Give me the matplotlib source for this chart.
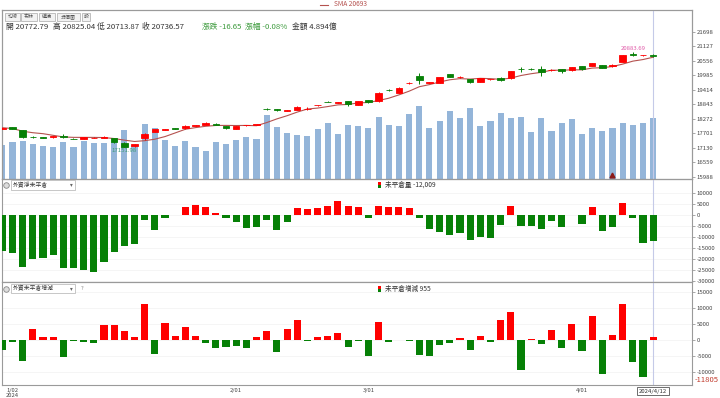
import matplotlib
matplotlib.use('Agg')
import matplotlib.pyplot as plt
import numpy as np
import pandas as pd
from matplotlib.patches import Rectangle
from matplotlib.lines import Line2D

plt.rcParams['font.family'] = ['Noto Sans CJK TC', 'DejaVu Sans']

# ---------------- data ----------------
opens = [17866, 17933, 17815, 17560, 17545, 17539, 17579, 17490, 17473, 17520,
         17520, 17500, 17327, 17185, 17524, 17760, 17840, 17900, 17894, 18000,
         18024, 18075, 17973, 17866, 18010, 18040, 18650, 18635, 18575, 18615,
         18660, 18800, 18935, 18905, 18957, 18812, 19008, 18957, 19395, 19296,
         19670, 19953, 19695, 19690, 20020, 19895, 19823, 19729, 19825, 19887,
         19863, 20220, 20235, 20217, 20180, 20217, 20178, 20335, 20359, 20386,
         20355, 20517, 20815, 20765, 20772.79]
highs = [17930, 17945, 17830, 17575, 17560, 17600, 17658, 17505, 17550, 17545,
         17600, 17510, 17340, 17290, 17690, 17865, 17875, 17915, 18005, 18025,
         18125, 18090, 17985, 17985, 18040, 18070, 18700, 18670, 18605, 18755,
         18720, 18830, 18950, 18935, 18970, 18965, 19020, 19305, 19440, 19505,
         19720, 20060, 19725, 19910, 20035, 19950, 19835, 19875, 19855, 19920,
         20170, 20296, 20250, 20359, 20210, 20230, 20305, 20345, 20475, 20395,
         20410, 20790, 20883.69, 20795, 20825.04]
lows = [17850, 17850, 17512, 17530, 17515, 17530, 17530, 17470, 17465, 17505,
        17510, 17330, 17151.98, 17170, 17433, 17745, 17830, 17875, 17880, 17990,
        18015, 18015, 17880, 17855, 18000, 18030, 18600, 18580, 18565, 18605,
        18620, 18790, 18910, 18895, 18772, 18800, 18905, 18945, 19350, 19285,
        19640, 19627, 19680, 19680, 19915, 19860, 19695, 19720, 19815, 19740,
        19850, 20099, 20205, 19965, 20170, 20060, 20170, 20205, 20350, 20270,
        20320, 20505, 20760, 20740, 20713.87]
closes = [17917, 17855, 17563, 17545, 17530, 17591, 17539, 17480, 17539, 17528,
          17560, 17343, 17169, 17276, 17681, 17855, 17860, 17885, 17996, 18010,
          18114, 18024, 17894, 17973, 18030, 18060, 18640, 18620, 18595, 18745,
          18670, 18820, 18920, 18925, 18839, 18957, 18918, 19296, 19385, 19493,
          19685, 19796, 19715, 19902, 19926, 19910, 19705, 19863, 19845, 19784,
          20162, 20210, 20215, 20123, 20200, 20150, 20296, 20217, 20465, 20280,
          20368, 20781, 20800, 20780, 20736.57]
volume = [2.74, 3.01, 3.09, 2.82, 2.68, 2.60, 3.01, 2.55, 3.09, 2.88,
          2.88, 2.96, 3.93, 2.68, 4.41, 4.09, 3.14, 2.68, 3.06, 2.60,
          2.28, 2.96, 2.80, 3.12, 3.36, 3.22, 5.16, 4.17, 3.73, 3.57,
          3.47, 4.03, 4.49, 3.63, 4.33, 4.27, 4.09, 4.97, 4.35, 4.25,
          5.21, 5.91, 4.11, 4.65, 5.51, 4.89, 5.70, 4.27, 4.67, 5.30,
          4.89, 5.02, 3.76, 4.89, 3.89, 4.49, 4.81, 3.63, 4.13, 3.84,
          4.13, 4.49, 4.35, 4.49, 4.894]
net_oi = [-16500, -17250, -23700, -20250, -19500, -18450, -24000, -24450, -25050, -26250,
          -21450, -16950, -14250, -13500, -2550, -6750, -1500, -300, 3450, 4200,
          3450, 600, -1500, -3300, -6000, -5550, -2550, -6750, -3450, 3000,
          2550, 3000, 4050, 6000, 3750, 3450, -1500, 4050, 3300, 3300,
          3000, -1500, -6300, -7800, -9150, -8250, -11550, -10050, -10800, -4500,
          4050, -5250, -4950, -6300, -3000, -5550, -300, -4050, 3300, -7200,
          -5700, 5100, -1300, -12964, -12009]
oi_change = [-3300, -720, -6500, 3400, 830, 830, -5470, -300, -720, -1030,
             4440, 4440, 2580, 830, 11040, -4330, 5370, 1030, 3820, 1030,
             -1030, -2580, -2370, -1860, -2580, 720, 2790, -3920, 3300, 6190,
             -300, 720, 1030, 2060, -2370, -300, -5160, 5470, -720, 0,
             -300, -4640, -4950, -1550, -1030, 520, -3100, 1240, -620, 6190,
             8770, -9500, 310, -1240, 3100, -2580, 4950, -3610, 7530, -10840,
             1550, 11040, -6910, -11805, 955]
tick_idx = [1, 23, 36, 57]
tick_labels = ['1/02\n2024', '2/01', '3/01', '4/01']
price_ticks = [15988, 16559, 17130, 17701, 18272, 18843, 19414, 19985, 20556, 21127, 21698]
net_ticks = [10000, 5000, 0, -5000, -10000, -15000, -20000, -25000, -30000]
chg_ticks = [15000, 10000, 5000, 0, -5000, -10000]

RED = '#ff0000'
GREEN = '#068006'
FRAME = '#9a9a9a'
TXT = '#444444'

W, H = 720, 398
fig = plt.figure(figsize=(7.2, 3.98), dpi=100)


def rect(x0, y0, x1, y1):
    return [x0 / W, 1 - y1 / H, (x1 - x0) / W, (y1 - y0) / H]


def fx(x):
    return x / W


def fy(y):
    return 1 - y / H


Lpx, Rpx = 1.5, 691.7
X0, DX = 2.3, 10.17
xlim = ((Lpx - X0) / DX, (Rpx - X0) / DX)
x = np.arange(len(closes))

ax_v = fig.add_axes(rect(Lpx, 10, Rpx, 179))
ax_p = ax_v.twinx()
ax_m = fig.add_axes(rect(Lpx, 179, Rpx, 282.3))
ax_b = fig.add_axes(rect(Lpx, 282.3, Rpx, 385))

for a in (ax_v, ax_p, ax_m, ax_b):
    a.set_xlim(*xlim)
    for s in a.spines.values():
        s.set_color(FRAME)
        s.set_linewidth(0.8)
    a.tick_params(axis='x', length=0, labelbottom=False)
    a.set_facecolor('none')
ax_v.set_facecolor('white')

# ---- top panel: volume + candles + SMA ----
ax_v.bar(x, volume, width=0.6, color='#94b5d9', zorder=1)
ax_v.set_ylim(0, 13.62)
ax_v.set_yticks([])

up = [c >= o for o, c in zip(opens, closes)]
colors = [RED if u else GREEN for u in up]
bottoms = [min(o, c) for o, c in zip(opens, closes)]
heights = [abs(c - o) for o, c in zip(opens, closes)]
ax_p.vlines(x, lows, highs, colors=colors, lw=0.7, zorder=3)
ax_p.bar(x, heights, bottom=bottoms, width=0.64, color=colors,
         edgecolor=colors, linewidth=0.6, zorder=4)
sma = pd.Series(closes).rolling(5, min_periods=1).mean()
ax_p.plot(x, sma, color='#b5524f', lw=0.8, zorder=2)
ax_p.set_ylim(15897, 22553)
ax_p.set_yticks(price_ticks)
ax_p.set_yticklabels([str(t) for t in price_ticks])
ax_p.tick_params(axis='y', right=True, labelright=True, left=False, labelleft=False,
                 length=2, width=0.6, color=FRAME, labelsize=4.3, labelcolor=TXT, pad=1.5)
ax_p.axvline(64, color='#c5cae8', lw=0.8, zorder=1)
ax_p.plot([60], [16035], marker='^', color='#8b1a1a', ms=3.5, clip_on=False, zorder=6)
ax_p.text(12, 17020, '17151.98', color='#3f9a78', fontsize=4.3, ha='center', va='center')
ax_p.text(62, 21056, '20883.69', color='#e05aa8', fontsize=4.3, ha='center', va='center')

# ---- middle panel: net open interest ----
ax_m.bar(x, net_oi, width=0.7, color=[RED if v > 0 else GREEN for v in net_oi], zorder=3)
ax_m.set_ylim(-30727, 16227)
ax_m.set_yticks(net_ticks)
ax_m.set_yticklabels([str(t) for t in net_ticks])
ax_m.yaxis.tick_right()
ax_m.tick_params(axis='y', length=2, width=0.6, color=FRAME, labelsize=4.3,
                 labelcolor=TXT, pad=1.5)
ax_m.grid(axis='y', color='#f1f1f1', lw=0.5)
ax_m.set_axisbelow(True)
ax_m.axvline(64, color='#c5cae8', lw=0.8, zorder=1)

# ---- bottom panel: open interest change ----
ax_b.bar(x, oi_change, width=0.7, color=[RED if v > 0 else GREEN for v in oi_change], zorder=3)
ax_b.set_ylim(-14156, 17937)
ax_b.set_yticks(chg_ticks)
ax_b.set_yticklabels([str(t) for t in chg_ticks])
ax_b.yaxis.tick_right()
ax_b.tick_params(axis='y', length=2, width=0.6, color=FRAME, labelsize=4.3,
                 labelcolor=TXT, pad=1.5)
ax_b.grid(axis='y', color='#f1f1f1', lw=0.5)
ax_b.set_axisbelow(True)
ax_b.axvline(64, color='#c5cae8', lw=0.8, zorder=1)
ax_b.set_xticks(tick_idx)
ax_b.set_xticklabels(tick_labels)
ax_b.tick_params(axis='x', length=0, labelbottom=True, labelsize=4.2,
                 labelcolor=TXT, pad=2)
for lbl in ax_b.get_xticklabels():
    lbl.set_linespacing(1.0)

# ---- header: SMA legend, tabs, info line ----
fig.add_artist(Line2D([fx(320), fx(328)], [fy(4.5), fy(4.5)], color='#b5524f', lw=0.8,
                      transform=fig.transFigure))
fig.text(fx(334), fy(4.5), 'SMA 20693', color='#b5524f', fontsize=4.8, va='center', ha='left')

tabs = [('均線', 5, 20), ('布林', 21, 37), ('纏繞', 39, 55), ('分價圖', 57, 80), ('設', 82, 90)]
for t, a, b in tabs:
    fig.add_artist(Rectangle((fx(a), fy(20.7)), (b - a) / W, 8 / H, transform=fig.transFigure,
                             fc='#f2f2f2', ec='#a8a8a8', lw=0.5))
    fig.text(fx((a + b) / 2), fy(16.7), t, fontsize=3.6, color='#555555', ha='center', va='center')

info = [('開 20772.79', 6.5, '#333333'), ('高 20825.04', 53, '#333333'),
        ('低 20713.87', 97, '#333333'), ('收 20736.57', 142, '#333333'),
        ('漲跌 -16.65', 202, '#3c9a3c'), ('漲幅 -0.08%', 245, '#3c9a3c'),
        ('金額 4.894億', 292, '#333333')]
for s, px, col in info:
    fig.text(fx(px), fy(27), s, fontsize=5.6, color=col, ha='left', va='center')

# ---- panel headers (dropdowns + legends) ----
def panel_header(ycen, name, legend, question=False):
    fig.add_artist(Line2D([fx(6.5)], [fy(ycen)], marker='o', ms=4, mfc='#dddddd', mec='#888888',
                          mew=0.6, transform=fig.transFigure))
    fig.add_artist(Rectangle((fx(11), fy(ycen + 4.5)), 64 / W, 9 / H, transform=fig.transFigure,
                             fc='white', ec='#b0b0b0', lw=0.5))
    fig.text(fx(13), fy(ycen), name, fontsize=4.2, color='#333333', va='center', ha='left')
    fig.text(fx(71), fy(ycen), '▾', fontsize=4, color='#666666', va='center', ha='center',
             family='DejaVu Sans')
    if question:
        fig.text(fx(82), fy(ycen), '?', fontsize=4.2, color='#888888', va='center', ha='center')
    fig.add_artist(Rectangle((fx(378), fy(ycen)), 3 / W, 3 / H, transform=fig.transFigure,
                             fc=RED, ec='none'))
    fig.add_artist(Rectangle((fx(378), fy(ycen + 3)), 3 / W, 3 / H, transform=fig.transFigure,
                             fc=GREEN, ec='none'))
    fig.text(fx(385), fy(ycen), legend, fontsize=4.8, color='#333333', va='center', ha='left')


panel_header(185, '外資淨未平倉', '未平倉量 -12,009')
panel_header(288.5, '外資未平倉增減', '未平倉增減 955', question=True)

# ---- bottom-right markers ----
fig.text(fx(653), fy(391), '2024/4/12', fontsize=4.3, color='#333333', ha='center', va='center',
         bbox=dict(boxstyle='square,pad=0.3', fc='white', ec='#555555', lw=0.6))
fig.text(fx(695), fy(379.5), '-11805', fontsize=5.5, color='#c0392b', ha='left', va='center')

fig.savefig('out.png', dpi=100)
